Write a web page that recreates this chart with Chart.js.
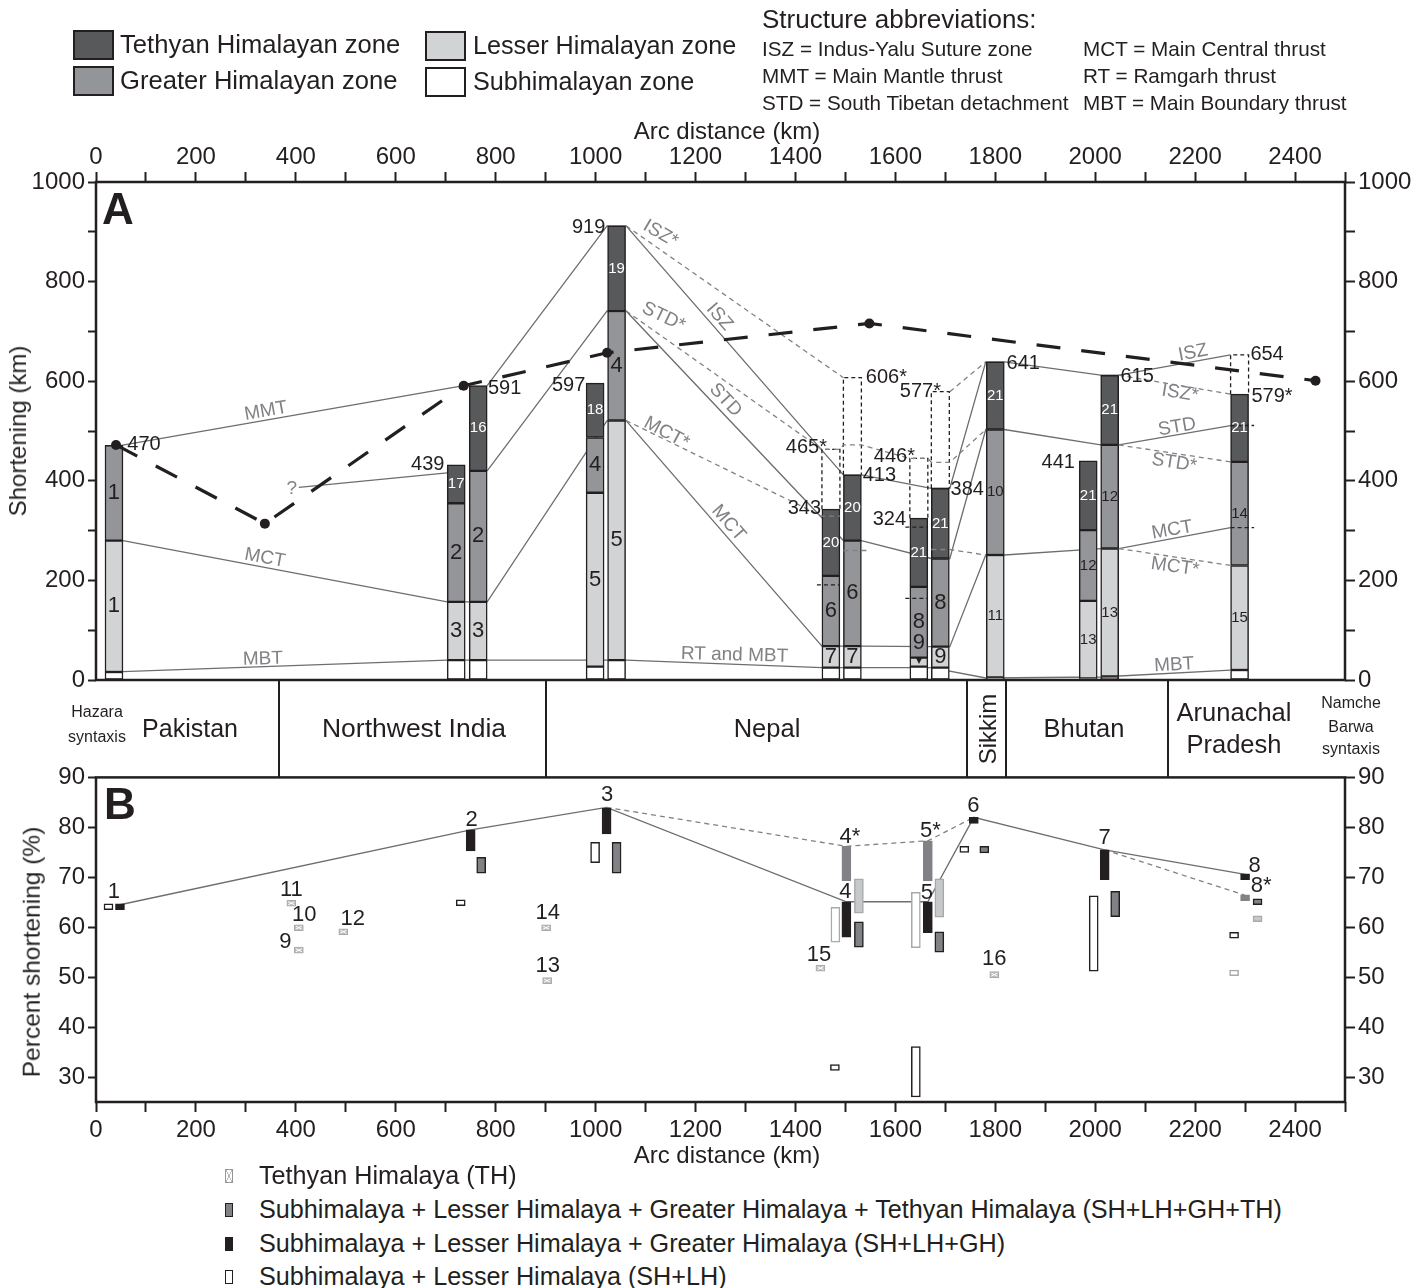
<!DOCTYPE html>
<html>
<head>
<meta charset="utf-8">
<title>Himalayan shortening</title>
<script src="https://cdn.jsdelivr.net/npm/chart.js@4.4.1/dist/chart.umd.min.js"></script>
<style>
html,body{margin:0;padding:0;background:#fff}
body{width:1428px;height:1288px;position:relative;overflow:hidden;font-family:'Liberation Sans',Arial,sans-serif;color:#231f20}
canvas{position:absolute;left:0}
#cA{top:0}
#cB{top:760px}
.t{position:absolute;white-space:nowrap;line-height:1;transform:translateY(-50%)}
.c{position:absolute;white-space:nowrap;line-height:1;transform:translate(-50%,-50%)}
.r{position:absolute;white-space:nowrap;line-height:1;transform:translate(-50%,-50%) rotate(-90deg)}
.sw{position:absolute;width:41px;height:30px;box-sizing:border-box;border:2.5px solid #231f20}
.sym{position:absolute;width:8px;height:14px;box-sizing:border-box;transform:translateY(-50%)}
</style>
</head>
<body>
<canvas id="cA" width="1428" height="777"></canvas>
<canvas id="cB" width="1428" height="410"></canvas>

<!-- top legend -->
<div class="sw" style="left:73px;top:30px;background:#58595b"></div>
<div class="sw" style="left:73px;top:66px;background:#939598"></div>
<div class="sw" style="left:425px;top:31px;background:#d1d3d4"></div>
<div class="sw" style="left:425px;top:67px;background:#ffffff"></div>
<div class="t" style="left:120px;top:45px;font-size:25.6px">Tethyan Himalayan zone</div>
<div class="t" style="left:120px;top:81px;font-size:25.6px">Greater Himalayan zone</div>
<div class="t" style="left:473px;top:46px;font-size:25.2px">Lesser Himalayan zone</div>
<div class="t" style="left:473px;top:82px;font-size:25.2px">Subhimalayan zone</div>

<div class="t" style="left:762px;top:19px;font-size:26px">Structure abbreviations:</div>
<div class="t" style="left:762px;top:49px;font-size:20.7px">ISZ = Indus-Yalu Suture zone</div>
<div class="t" style="left:762px;top:76px;font-size:20.7px">MMT = Main Mantle thrust</div>
<div class="t" style="left:762px;top:103px;font-size:20.7px">STD = South Tibetan detachment</div>
<div class="t" style="left:1083px;top:49px;font-size:20.7px">MCT = Main Central thrust</div>
<div class="t" style="left:1083px;top:76px;font-size:20.7px">RT = Ramgarh thrust</div>
<div class="t" style="left:1083px;top:103px;font-size:20.7px">MBT = Main Boundary thrust</div>

<!-- axis titles -->
<div class="c" style="left:727px;top:131px;font-size:24px">Arc distance (km)</div>
<div class="c" style="left:727px;top:1155px;font-size:24px">Arc distance (km)</div>
<div class="r" style="left:18px;top:431px;font-size:24px">Shortening (km)</div>
<div class="r" style="left:32px;top:952px;font-size:24.5px">Percent shortening (%)</div>
<div class="c" style="left:118px;top:209px;font-size:44px;font-weight:bold">A</div>
<div class="c" style="left:120px;top:804px;font-size:44px;font-weight:bold">B</div>

<!-- region band -->
<div class="c" style="left:97px;top:712px;font-size:16px">Hazara</div>
<div class="c" style="left:97px;top:737px;font-size:16px">syntaxis</div>
<div class="c" style="left:190px;top:728px;font-size:25px">Pakistan</div>
<div class="c" style="left:414px;top:728px;font-size:26.5px">Northwest India</div>
<div class="c" style="left:767px;top:729px;font-size:25.5px">Nepal</div>
<div class="r" style="left:988px;top:729px;font-size:24px">Sikkim</div>
<div class="c" style="left:1084px;top:729px;font-size:25.5px">Bhutan</div>
<div class="c" style="left:1234px;top:713px;font-size:25.5px">Arunachal</div>
<div class="c" style="left:1234px;top:745px;font-size:25.5px">Pradesh</div>
<div class="c" style="left:1351px;top:703px;font-size:16px">Namche</div>
<div class="c" style="left:1351px;top:727px;font-size:16px">Barwa</div>
<div class="c" style="left:1351px;top:749px;font-size:16px">syntaxis</div>

<!-- bottom legend -->
<div class="sym" style="left:225px;top:1176px;border:1px solid #939598;background:linear-gradient(to top right,transparent 44%,#939598 50%,transparent 56%),linear-gradient(to top left,transparent 44%,#939598 50%,transparent 56%),#fff"></div>
<div class="sym" style="left:225px;top:1210px;border:1.5px solid #231f20;background:#808285"></div>
<div class="sym" style="left:225px;top:1244px;border:1.5px solid #231f20;background:#231f20"></div>
<div class="sym" style="left:225px;top:1277px;border:1.5px solid #231f20;background:#fff"></div>
<div class="t" style="left:259px;top:1176px;font-size:25.2px">Tethyan Himalaya (TH)</div>
<div class="t" style="left:259px;top:1210px;font-size:25.2px">Subhimalaya + Lesser Himalaya + Greater Himalaya + Tethyan Himalaya (SH+LH+GH+TH)</div>
<div class="t" style="left:259px;top:1244px;font-size:25.2px">Subhimalaya + Lesser Himalaya + Greater Himalaya (SH+LH+GH)</div>
<div class="t" style="left:259px;top:1277px;font-size:25.2px">Subhimalaya + Lesser Himalaya (SH+LH)</div>

<script>
const INK = '#231f20';
const FONT = "'Liberation Sans', Arial, sans-serif";

// ---------- tick values ----------
const xTickVals = [0,100,200,300,400,500,600,700,800,900,1000,1100,1200,1300,1400,1500,1600,1700,1800,1900,2000,2100,2200,2300,2400,2500];
const yTickValsA = [0,100,200,300,400,500,600,700,800,900,1000];
const yTickValsB = [30,40,50,60,70,80,90];
const bandKm = [367, 901, 1744, 1822, 2145];

// ---------- panel A: stacked zone columns ----------
const barKm = [36, 721, 765, 999, 1042, 1471, 1514, 1647, 1690, 1800, 1986, 2029, 2289];
const shTop = [16, 40, 40, 27, 40, 25, 25, 27, 25, 5, 3, 7, 20];
const lhTop = [280, 157, 157, 376, 521, 68, 68, 45, 67, 251, 159, 264, 230];
const ghTop = [471, 355, 420, 487, 741, 209, 280, 187, 244, 503, 301, 472, 438];
const thTop = [null, 432, 591, 596, 912, 343, 412, 325, 385, 639, 440, 612, 574];
const zeroBase = [0, 0, 0, 0, 0, 0, 0, 0, 0, 0, 0, 0, 0];
const thLabels = ['', '17', '16', '18', '19', '20', '20', '21', '21', '21', '21', '21', '21'];
const ghLabels = ['1', '2', '2', '4', '4', '6', '6', '8', '8', '10', '12', '12', '14'];
const lhLabels = ['1', '3', '3', '5', '5', '7', '7', '', '9', '11', '13', '13', '15'];

// structure lines (km, shortening)
const lineMMT = [[45,470],[736,591]];
const lineQ = [[406,387],[703,416]];
const lineMCT = [[54,280],[703,157],[783,157],[1023,521],[1061,521],[1453,68],[1532,68],[1672,67],[1709,67],[1781,251],[1818,251],[2011,264],[2047,264],[2271,306]];
const lineISZ = [[783,591],[1023,912],[1061,912],[1496,412],[1532,412],[1672,385],[1709,385],[1781,639],[1818,639],[2011,612],[2047,612],[2271,653]];
const lineSTD = [[783,420],[1023,741],[1061,741],[1496,280],[1532,280],[1672,244],[1709,244],[1781,503],[1818,503],[2011,472],[2047,472],[2271,511]];
const lineMBT = [[54,17],[703,40],[1023,40],[1061,40],[1453,25],[1672,25],[1781,4],[2011,6],[2271,20]];
const lineISZstarA = [[1061,912],[1496,607]];
const lineISZstarB = [[1709,579],[1781,639]];
const lineISZstarC = [[2047,612],[2271,574]];
const lineSTDstarA = [[1061,741],[1453,463],[1489,463],[1496,472],[1532,472],[1628,445],[1665,445],[1672,437],[1709,437],[1781,503]];
const lineSTDstarB = [[2047,472],[2271,438]];
const lineMCTstarA = [[1061,521],[1453,329],[1489,329]];
const lineMCTstarB = [[1496,260],[1545,260]];
const lineMCTstarC = [[1672,262],[1709,262],[1781,251]];
const lineMCTstarD = [[2047,264],[2271,230]];
const tickDash1 = [[1443,191],[1489,191]];
const tickDash2 = [[1620,307],[1665,307]];
const tickDash3 = [[1620,164],[1665,164]];
const tickDash4 = [[2271,511],[2318,511]];
const tickDash5 = [[2271,306],[2318,306]];
const box6 = [[1453,343],[1453,463],[1489,463],[1489,343]];
const box7 = [[1496,412],[1496,607],[1532,607],[1532,412]];
const box8 = [[1629,325],[1629,445],[1665,445],[1665,325]];
const box9 = [[1672,385],[1672,579],[1708,579],[1708,385]];
const box13 = [[2271,574],[2271,653],[2307,653],[2307,574]];
const thickKm = [40, 338, 736, 1023, 1548, 2441];
const thickV = [472, 314, 591, 657, 716, 601];

// number labels in A
const numText = ['470','439','591','597','919','343','465*','413','606*','577*','446*','324','384','641','441','615','654','579*'];
const numKm = [96,664,818,946,986,1418,1422,1568,1582,1650,1598,1588,1744,1856,1926,2084,2344,2354];
const numV = [472,432,586,592,908,345,466,410,608,580,448,323,382,635,436,610,653,570];
const faultText = ['MMT','MCT','MBT','?','ISZ*','STD*','MCT*','ISZ','STD','MCT','RT and MBT','ISZ','ISZ*','STD','STD*','MCT','MCT*','MBT'];
const faultKm = [340,338,334,392,1130,1136,1142,1248,1260,1266,1278,2196,2170,2164,2158,2154,2160,2158];
const faultV = [540,245,42,385,896,729,496,729,562,315,50,657,576,508,436,301,227,30];
const faultRot = [-10,10.5,-1.5,0,30,26,28,49,47,49,1.5,-11,9,-10,9,-10,8,-3];

// ---------- panel B: percent shortening ----------
const shlhgKm = [48, 750, 1022, 1502, 1665, 1757, 2019, 2300];
const shlhgLo = [63.5, 75.3, 78.7, 58.0, 58.9, 80.8, 69.5, 69.5];
const shlhgHi = [64.7, 79.5, 83.8, 65.1, 65.1, 82.0, 75.5, 70.7];
const allKm = [771, 1042, 1527, 1688, 1778, 2040, 2325];
const allLo = [70.8, 70.8, 56.0, 55.0, 74.9, 62.1, 64.5];
const allHi = [74.0, 77.0, 61.1, 59.1, 76.2, 67.2, 65.7];
const allStarKm = [1502, 1665, 2300];
const allStarLo = [69.3, 69.3, 65.3];
const allStarHi = [76.2, 77.3, 66.5];
const allAltKm = [1527, 1688, 2325];
const allAltLo = [62.8, 62.0, 61.1];
const allAltHi = [69.7, 69.7, 62.3];
const shlhKm = [25, 730, 999, 1479, 1641, 1738, 1997, 2278];
const shlhLo = [63.5, 64.3, 72.9, 31.3, 26.0, 75.0, 51.2, 57.8];
const shlhHi = [64.7, 65.5, 77.0, 32.5, 36.1, 76.2, 66.3, 59.0];
const shlhAltKm = [1480, 1641, 2278];
const shlhAltLo = [57.0, 55.9, 50.3];
const shlhAltHi = [64.0, 67.0, 51.4];
const thKm = [391, 406, 406, 495, 901, 903, 1450, 1798];
const thLo = [64.2, 59.3, 54.8, 58.5, 59.3, 48.7, 51.2, 49.9];
const thHi = [65.4, 60.5, 56.0, 59.7, 60.5, 49.9, 52.4, 51.1];
const lineB = [[48,64.5],[750,79.5],[1022,84],[1502,65.1],[1665,65.1],[1757,82],[2019,75.5],[2300,70.6]];
const lineBstarA = [[1022,84],[1502,76.2],[1665,77.3],[1757,82]];
const lineBstarB = [[2019,75.5],[2300,66.4]];
const bText = ['1','2','3','11','10','9','12','14','13','4*','4','15','5*','5','6','16','7','8','8*'];
const bKm = [36,752,1023,391,417,379,514,904,904,1509,1500,1447,1670,1663,1756,1798,2019,2319,2332];
const bV = [67.1,81.5,86.5,67.5,62.5,57.1,61.7,62.9,52.3,78.0,67.0,54.5,79.3,66.8,84.3,53.7,77.9,72.3,68.3];

// ---------- helpers ----------
const P = arr => arr.map(p => ({x: p[0], y: p[1]}));
function lineDS(pts, color, width, dash, order) {
  return {type:'line', data:P(pts), borderColor:color, borderWidth:width, borderDash:dash || [],
          pointRadius:0, fill:false, tension:0, order, xAxisID:'x', yAxisID:'y'};
}
function barDS(km, lo, hi, fill, border, thick, order, bw) {
  const data = [];
  km.forEach((x, i) => { if (lo[i] != null && hi[i] != null) data.push({x, y:[lo[i], hi[i]]}); });
  return {type:'bar', data, backgroundColor:fill, borderColor:border, borderWidth:bw == null ? 1.5 : bw,
          borderSkipped:false, barThickness:thick, grouped:false, order, xAxisID:'x', yAxisID:'y'};
}
function xAxis(pos, h, pad) {
  return {
    type:'linear', position:pos, min:0, max:2500, offset:false,
    afterFit: a => { a.height = h; },
    afterBuildTicks: a => { a.ticks = xTickVals.map(v => ({value:v})); },
    ticks:{autoSkip:false, maxRotation:0, minRotation:0, padding:pad, color:INK, font:{family:FONT, size:24},
           callback: v => (v % 200 === 0 && v <= 2400) ? String(v) : ''},
    grid:{display:true, offset:false, drawOnChartArea:false, drawTicks:true, tickLength:10, tickWidth:2, tickColor:INK},
    border:{display:false}
  };
}
function yAxis(pos, w, min, max, vals, labelFn, tl, pad) {
  return {
    type:'linear', position:pos, min, max,
    afterFit: a => { a.width = w; },
    afterBuildTicks: a => { a.ticks = vals.map(v => ({value:v})); },
    ticks:{autoSkip:false, padding:pad, color:INK, font:{family:FONT, size:24}, callback: labelFn},
    grid:{display:true, offset:false, drawOnChartArea:false, drawTicks:true, tickLength:tl, tickWidth:2, tickColor:INK},
    border:{display:false}
  };
}
const framePlugin = {
  id:'frame',
  afterDatasetsDraw(chart) {
    const {left, top, right, bottom} = chart.chartArea, c = chart.ctx;
    c.save(); c.strokeStyle = INK; c.lineWidth = 2.5;
    c.strokeRect(left, top, right - left, bottom - top);
    c.restore();
  }
};
const textPlugin = {
  id:'texts',
  afterDraw(chart, args, opts) {
    const c = chart.ctx, xs = chart.scales.x, ys = chart.scales.y;
    (opts.items || []).forEach(L => {
      c.save();
      c.font = L.font; c.fillStyle = L.color; c.textAlign = 'center'; c.textBaseline = 'middle';
      c.translate(xs.getPixelForValue(L.x), ys.getPixelForValue(L.y));
      if (L.rot) c.rotate(L.rot * Math.PI / 180);
      c.fillText(L.t, 0, 0);
      c.restore();
    });
  }
};

// ---------- chart A ----------
const segPlugin = {
  id:'segLabels',
  afterDatasetsDraw(chart) {
    const c = chart.ctx, xs = chart.scales.x, ys = chart.scales.y;
    barKm.forEach((km, i) => {
      const segs = [[shTop[i], lhTop[i], lhLabels[i], INK], [lhTop[i], ghTop[i], ghLabels[i], INK], [ghTop[i], thTop[i], thLabels[i], '#ffffff']];
      segs.forEach(s => {
        if (!s[2] || s[1] == null) return;
        const size = s[2].length === 1 ? 22 : 15;
        c.save();
        c.font = size + 'px ' + FONT; c.fillStyle = s[3]; c.textAlign = 'center'; c.textBaseline = 'middle';
        c.fillText(s[2], xs.getPixelForValue(km), ys.getPixelForValue((s[0] + s[1]) / 2));
        c.restore();
      });
    });
  }
};
const bandPlugin = {
  id:'band',
  afterDraw(chart) {
    const c = chart.ctx, xs = chart.scales.x, b = chart.chartArea.bottom;
    c.save(); c.strokeStyle = INK; c.lineWidth = 2;
    bandKm.forEach(km => {
      const x = Math.round(xs.getPixelForValue(km));
      c.beginPath(); c.moveTo(x, b); c.lineTo(x, chart.height); c.stroke();
    });
    c.restore();
  }
};

const GRAYL = '#6d6e71', GRAYD = '#808285';
const dsA = [
  lineDS(lineMMT, GRAYL, 1.3, null, 10),
  lineDS(lineQ, GRAYL, 1.3, null, 10),
  lineDS(lineMCT, GRAYL, 1.3, null, 10),
  lineDS(lineISZ, GRAYL, 1.3, null, 10),
  lineDS(lineSTD, GRAYL, 1.3, null, 10),
  lineDS(lineMBT, GRAYL, 1.3, null, 10),
  barDS(barKm, zeroBase, shTop, '#ffffff', INK, 18, 5),
  barDS(barKm, shTop, lhTop, '#d1d3d4', INK, 18, 5),
  barDS(barKm, lhTop, ghTop, '#939598', INK, 18, 5),
  barDS(barKm, ghTop, thTop, '#58595b', INK, 18, 5),
];
[lineISZstarA, lineISZstarB, lineISZstarC, lineSTDstarA, lineSTDstarB, lineMCTstarA, lineMCTstarB, lineMCTstarC, lineMCTstarD]
  .forEach(l => dsA.push(lineDS(l, GRAYD, 1.3, [5, 4], 2)));
[tickDash1, tickDash2, tickDash3, tickDash4, tickDash5, box6, box7, box8, box9, box13]
  .forEach(l => dsA.push(lineDS(l, INK, 1.3, [4, 3], 2)));
dsA.push({type:'line', data: thickKm.map((x, i) => ({x, y: thickV[i]})), borderColor:INK, borderWidth:3.2,
          borderDash:[24, 21], pointRadius:5, pointBackgroundColor:INK, pointBorderWidth:0, fill:false, tension:0,
          order:0, xAxisID:'x', yAxisID:'y'});

const itemsA = [];
numText.forEach((t, i) => itemsA.push({t, x:numKm[i], y:numV[i], font:'20px ' + FONT, color:INK}));
faultText.forEach((t, i) => itemsA.push({t, x:faultKm[i], y:faultV[i], rot:faultRot[i], font:'19px ' + FONT, color:GRAYD}));
itemsA.push({t:'9', x:1647, y:74, font:'22px ' + FONT, color:INK});
itemsA.push({t:'▾', x:1647, y:38, font:'12px ' + FONT, color:INK});

const labA = v => (v % 200 === 0) ? String(v) : '';
new Chart(document.getElementById('cA'), {
  type:'bar',
  data:{datasets: dsA},
  options:{
    responsive:false, animation:false, devicePixelRatio:1,
    layout:{padding:{left:0, right:0, top:0, bottom:97}},
    plugins:{legend:{display:false}, tooltip:{enabled:false}, texts:{items:itemsA}},
    scales:{
      x: xAxis('top', 182, 0),
      y: yAxis('left', 96, 0, 1000, yTickValsA, labA, 8, 3),
      y2: yAxis('right', 83, 0, 1000, yTickValsA, labA, 10, 3)
    }
  },
  plugins:[framePlugin, segPlugin, bandPlugin, textPlugin]
});

// ---------- chart B ----------
const dsB = [
  lineDS(lineB, GRAYL, 1.3, null, 10),
  lineDS(lineBstarA, GRAYD, 1.3, [5, 4], 10),
  lineDS(lineBstarB, GRAYD, 1.3, [5, 4], 10),
  barDS(shlhAltKm, shlhAltLo, shlhAltHi, '#ffffff', '#a7a9ac', 9, 5),
  barDS(shlhKm, shlhLo, shlhHi, '#ffffff', INK, 9, 5),
  barDS(allAltKm, allAltLo, allAltHi, '#c7c8ca', '#a7a9ac', 9, 5),
  barDS(allStarKm, allStarLo, allStarHi, '#808285', '#808285', 9, 5),
  barDS(allKm, allLo, allHi, '#808285', INK, 9, 5),
  barDS(shlhgKm, shlhgLo, shlhgHi, INK, INK, 9, 5),
  barDS(thKm, thLo, thHi, '#bcbec0', '#a7a9ac', 9, 5, 1),
];
const TH_INDEX = dsB.length - 1;
const thXPlugin = {
  id:'thX',
  afterDatasetsDraw(chart) {
    const c = chart.ctx, meta = chart.getDatasetMeta(TH_INDEX);
    c.save(); c.strokeStyle = '#ffffff'; c.lineWidth = 1;
    meta.data.forEach(el => {
      const p = el.getProps(['x', 'y', 'base', 'width'], true);
      const l = p.x - p.width / 2 + 1.5, r = p.x + p.width / 2 - 1.5;
      const t = Math.min(p.y, p.base) + 1.5, b = Math.max(p.y, p.base) - 1.5;
      c.beginPath(); c.moveTo(l, t); c.lineTo(r, b); c.moveTo(r, t); c.lineTo(l, b); c.stroke();
    });
    c.restore();
  }
};
const itemsB = bText.map((t, i) => ({t, x:bKm[i], y:bV[i], font:'22px ' + FONT, color:INK}));
const labB = v => String(v);
new Chart(document.getElementById('cB'), {
  type:'bar',
  data:{datasets: dsB},
  options:{
    responsive:false, animation:false, devicePixelRatio:1,
    layout:{padding:{left:0, right:0, top:17, bottom:0}},
    plugins:{legend:{display:false}, tooltip:{enabled:false}, texts:{items:itemsB}},
    scales:{
      x: xAxis('bottom', 68, 4),
      y: yAxis('left', 96, 25, 90, yTickValsB, labB, 8, 3),
      y2: yAxis('right', 83, 25, 90, yTickValsB, labB, 10, 3)
    }
  },
  plugins:[framePlugin, thXPlugin, textPlugin]
});
</script>
</body>
</html>
